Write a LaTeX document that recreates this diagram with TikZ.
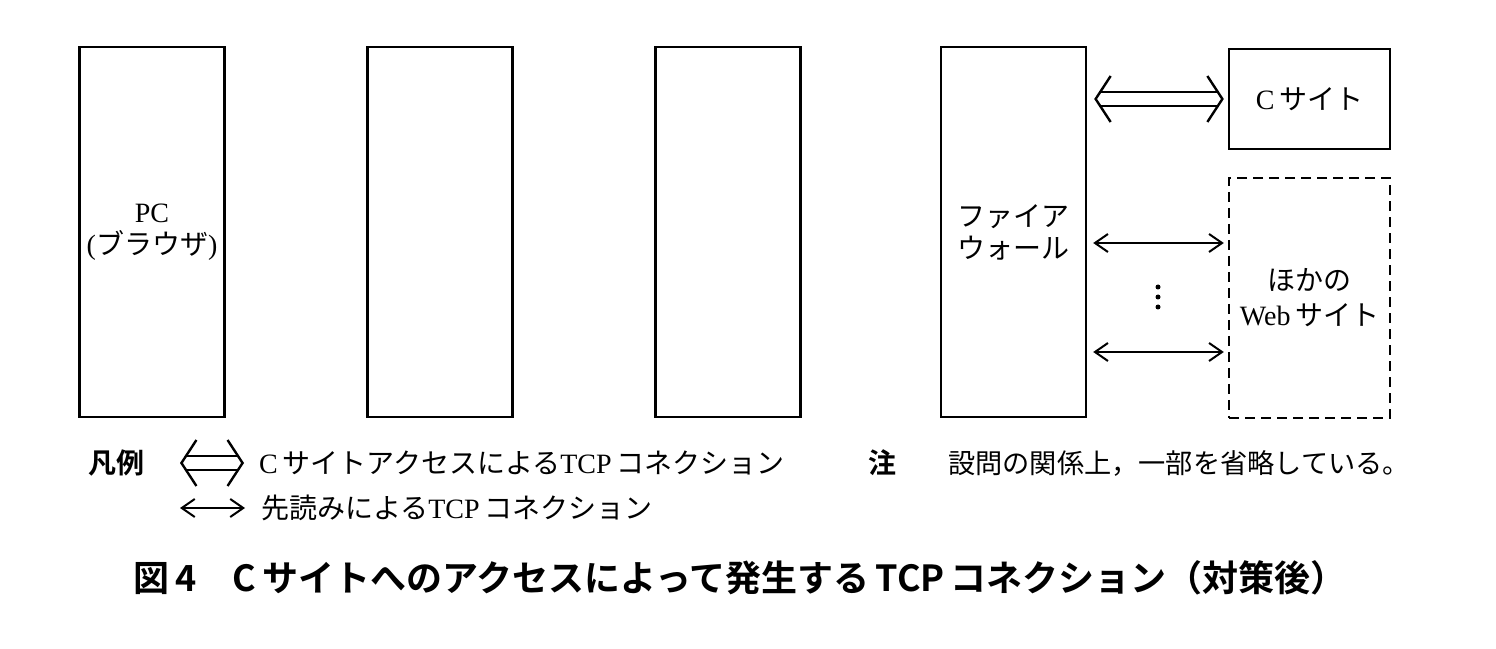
\documentclass[tikz,border=0pt]{standalone}
\usepackage{fontspec}
\setmainfont{Liberation Serif}
\newfontfamily\cjk{Noto Sans CJK JP}
\newfontfamily\cjkbold{Noto Sans CJK JP Bold}
\usetikzlibrary{positioning,%
  arrows.meta}
\newcommand{\jp}[1]{{\cjk #1}}

\begin{document}
\begin{tikzpicture}[x=1pt,y=1pt,
    every node/.style={font=\fontsize{28pt}{32pt}\selectfont},
    box/.style={draw,line width=2.4pt,minimum width=145pt,minimum height=370pt,align=center,inner sep=0pt},
    site/.style={draw,line width=2.4pt,minimum width=161pt,minimum height=100pt,align=center,inner sep=0pt},
    dashbox/.style={site,dash pattern=on 10pt off 6pt,minimum height=240pt,
      font=\fontsize{28pt}{35pt}\selectfont},
    conn/.style={line width=2pt,{Straight Barb[length=13pt,width=18pt,line width=2pt]}-{Straight Barb[length=13pt,width=18pt,line width=2pt]}},
    dblconn/.style={draw=white,line width=2pt,
      {Straight Barb[color=black,length=15pt,width=46pt,line width=2.4pt]}-{Straight Barb[color=black,length=15pt,width=46pt,line width=2.4pt]},
      preaction={draw=black,arrows=-,line width=2.2pt,double=white,double distance=12pt,shorten <=5pt,shorten >=5pt}},
    label/.style={anchor=west,inner sep=0pt},
    keymark/.style={inner sep=0pt,font=\fontsize{28pt}{32pt}\selectfont\cjkbold},
    caption/.style={inner sep=0pt,font=\fontsize{36pt}{40pt}\selectfont\cjkbold}]
  \useasboundingbox (0,0) rectangle (1496,648);

  % boxes
  \node[box] (pc) at (152,416) {PC\\(\jp{ブラウザ})};
  \node[box] (relay1) at (440,416) {};
  \node[box] (relay2) at (728,416) {};
  \node[box] (fw) at (1013.5,416) {\jp{ファイア}\\\jp{ウォール}};
  \node[site] (csite) at (1309.5,549) {C\,\jp{サイト}};
  \node[dashbox] (others) at (1309.5,350) {\jp{ほかの}\\Web\,\jp{サイト}};

  % connections
  \draw[dblconn] ([xshift=7pt]fw.east |- csite.west) -- ([xshift=-4pt]csite.west);
  \coordinate (o1) at ([yshift=55pt]others.west);
  \coordinate (o2) at ([yshift=-54pt]others.west);
  \draw[conn] ([xshift=6pt]fw.east |- o1) -- ([xshift=-4pt]o1);
  \draw[conn] ([xshift=6pt]fw.east |- o2) -- ([xshift=-4pt]o2);
  \foreach \k in {-10,0,10}
    \fill (1158,351+\k) circle (2.5pt);

  % legend
  \node[keymark] (key) at (116,185) {凡例};
  \coordinate (k1a) at (180,185);
  \coordinate (k1b) at (244,185);
  \draw[dblconn] (k1a) -- (k1b);
  \node[label] (k1) at (259,185) {C\,\jp{サイトアクセスによる}TCP\,\jp{コネクション}};
  \coordinate (k2a) at (180,140);
  \coordinate (k2b) at (245,140);
  \draw[conn] (k2a) -- (k2b);
  \node[label] (k2) at (261,140) {\jp{先読みによる}TCP\,\jp{コネクション}};
  \node[keymark] (notemark) at (882,185) {注};
  \node[label,font=\fontsize{27.2pt}{32pt}\selectfont] (note) at (948,185) {\jp{設問の関係上，一部を省略している。}};

  % caption
  \node[caption] (title) at (740,70) {図\,4\quad C\,サイトへのアクセスによって発生する\,TCP\,コネクション（対策後）};
\end{tikzpicture}
\end{document}
